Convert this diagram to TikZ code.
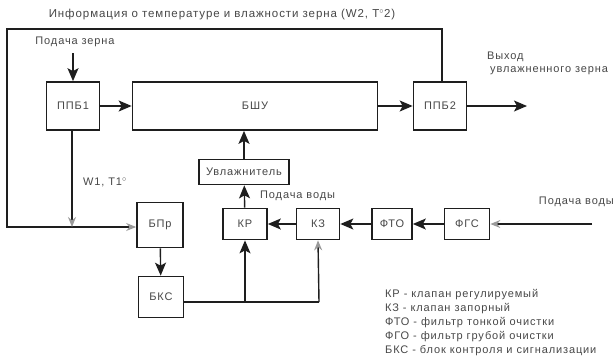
\documentclass[tikz,border=0pt]{standalone}
\usepackage{fontspec}
\setmainfont{Liberation Sans}[LetterSpace=8]
\usetikzlibrary{arrows.meta,positioning,calc}
\definecolor{ink}{HTML}{1E1E1E}
\definecolor{muted}{HTML}{474747}
\tikzset{box/.style={draw=ink,line width=1.7pt,fill=white,align=center,font=\fontsize{11}{13}\selectfont,text=muted,inner sep=1pt},flow/.style={-{Stealth[length=13pt,width=11pt,inset=3pt]},line width=1.4pt,draw=ink},weakflow/.style={flow,-{Stealth[length=10pt,width=8pt,color=ink!45]}},wire/.style={line width=1.4pt,draw=ink},note/.style={font=\fontsize{11}{13}\selectfont,text=muted,align=left,inner sep=0pt}}

\begin{document}
\begin{tikzpicture}[x=1pt,y=-1pt]
\useasboundingbox (0,0) rectangle (615,360);
% grain line
\node[box,minimum width=53pt,minimum height=48pt] (ppb1) at (73,106) {ППБ1};
\node[box,minimum width=245pt,minimum height=48pt] (bshu) at (255,106) {БШУ};
\node[box,minimum width=53pt,minimum height=48pt] (ppb2) at (440,106) {ППБ2};
\node[note] (feed) at (75,42) {Подача зерна};
\coordinate (feedin) at (73,53);
\coordinate (exit) at (527,106);
\node[note,anchor=north west] (exitlbl) at (487,52) {Выход\\\hspace{3pt}увлажненного зерна};
\draw[flow] (feedin) -- (ppb1);
\draw[flow] (ppb1) -- (bshu);
\draw[flow] (bshu) -- (ppb2);
\draw[flow] (ppb2) -- (exit);
% water line
\node[box,minimum width=90pt,minimum height=25pt] (uvl) at (244,172) {Увлажнитель};
\node[box,minimum width=44pt,minimum height=31pt] (kr) at (245,224) {КР};
\node[box,minimum width=43pt,minimum height=31pt] (kz) at (318,224) {КЗ};
\node[box,minimum width=40pt,minimum height=31pt] (fto) at (392,224) {ФТО};
\node[box,minimum width=45pt,minimum height=31pt] (fgs) at (467,224) {ФГС};
\node[note,anchor=west] (water1) at (260,196) {Подача воды};
\node[note,anchor=east] (water2) at (614,202) {Подача воды};
\coordinate (waterin) at (592,224);
\draw[weakflow] (waterin) -- (fgs);
\draw[flow] (fgs) -- (fto);
\draw[flow] (fto) -- (kz);
\draw[flow] (kz) -- (kr);
\draw[flow] (kr) -- (uvl);
\draw[flow] (uvl) -- (uvl.north |- bshu.south);
% control
\node[box,minimum width=46pt,minimum height=45pt] (bpr) at (160,225) {БПр};
\node[box,minimum width=45pt,minimum height=41pt] (bks) at (161,297) {БКС};
\node[note] (w1) at (105,182) {W1, T1$^{\circ}$};
\node[note,font=\fontsize{11.5}{14}\selectfont] (info) at (222,15) {Информация о температуре и влажности зерна (W2, T$^{\circ}$2)};
\coordinate (topright) at (442,29);
\coordinate (topleft) at (7,29);
\coordinate (botleft) at (7,227);
\coordinate (tap) at (72,227);
\coordinate (bkscorner) at (319,302);
\draw[wire] (ppb2.north -| topright) -- (topright) -- (topleft) -- (botleft) -- (tap);
\draw[weakflow] (tap) -- (bpr.west |- tap);
\draw[weakflow] (ppb1.south -| tap) -- (tap);
\draw[flow] (bpr) -- (bks);
\draw[wire] (bks.east |- bkscorner) -- (bkscorner);
\draw[weakflow] (bkscorner) -- (kz.south);
\draw[flow] (kr.south |- bkscorner) -- (kr);
% legend
\node[note,anchor=north west,font=\fontsize{11}{14}\selectfont] (legend) at (385,289) {КР - клапан регулируемый\\КЗ - клапан запорный\\ФТО - фильтр тонкой очистки\\ФГО - фильтр грубой очистки\\БКС - блок контроля и сигнализации};
\end{tikzpicture}
\end{document}
